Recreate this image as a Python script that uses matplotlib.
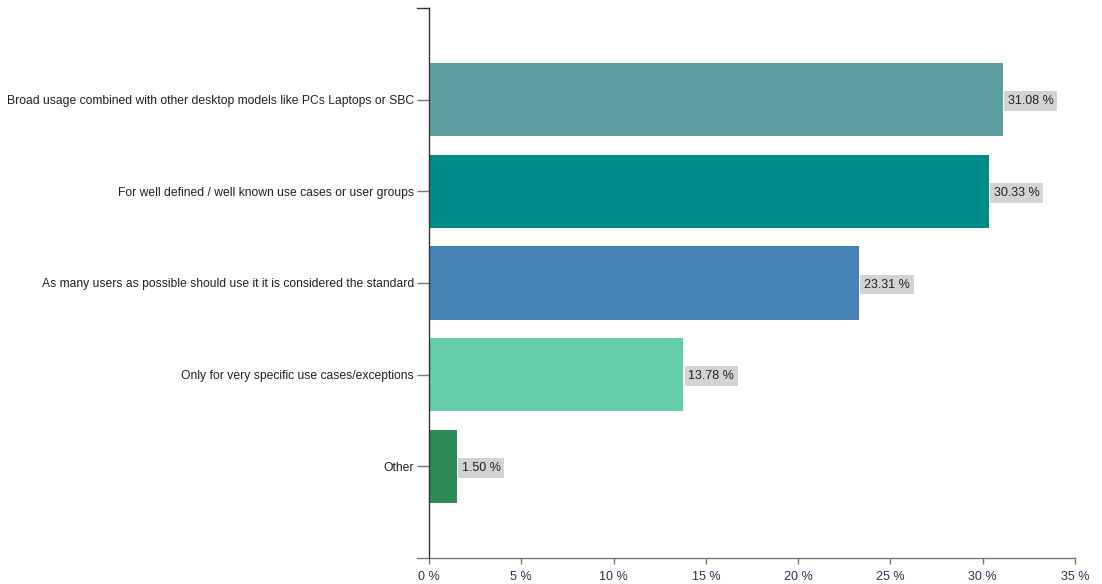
import matplotlib.pyplot as plt

plt.rcParams['font.family'] = ['Liberation Sans', 'DejaVu Sans']

categories = [
    'Broad usage combined with other desktop models like PCs Laptops or SBC',
    'For well defined / well known use cases or user groups',
    'As many users as possible should use it it is considered the standard',
    'Only for very specific use cases/exceptions',
    'Other',
]
shares = [31.08, 30.33, 23.31, 13.78, 1.50]
colors = ['#5f9ea0', '#008b8b', '#4682b4', '#66cdaa', '#2e8b57']
xticks = [0, 5, 10, 15, 20, 25, 30, 35]

PX = 0.72  # points per pixel at 100 dpi

fig = plt.figure(figsize=(11.02, 5.84), dpi=100)
W, H = 1102, 584
ax = fig.add_axes([429 / W, 26 / H, (1075 - 429) / W, (558 - 8) / H])

ypos = list(range(len(categories)))
ax.barh(ypos, shares, height=0.8, color=colors)

for y, v in zip(ypos, shares):
    ax.annotate('%.2f %%' % v, (v, y), xytext=(5 * PX, 0), textcoords='offset points',
                ha='left', va='center_baseline', fontsize=9, color='#222222',
                bbox=dict(boxstyle='square,pad=0.3', fc='#d3d3d3', ec='none'))

ax.set_xlim(0, 35)
ax.set_ylim(5, -1)

ax.set_yticks(ypos)
ax.set_yticklabels(categories, fontsize=8.7, color='#222222')
ax.tick_params(axis='y', length=12 * PX, width=1, color='#777777', pad=3 * PX)

ax.set_xticks(xticks)
ax.set_xticklabels(['%d %%' % t for t in xticks], fontsize=9, color='#2a3550')
ax.tick_params(axis='x', length=6 * PX, width=1, color='#777777', pad=5)

for s in ['top', 'right', 'bottom']:
    ax.spines[s].set_visible(False)
ax.spines['left'].set_color('#333333')
ax.spines['left'].set_linewidth(1)

# outer tick at the top of the y axis and the x domain line
ax.plot([-12 / 646, 0], [1, 1], transform=ax.transAxes, color='#333333',
        lw=1, clip_on=False)
ax.plot([-12 / 646, 1], [0, 0], transform=ax.transAxes, color='#777777',
        lw=1, clip_on=False)

plt.savefig('out.png', dpi=100)
